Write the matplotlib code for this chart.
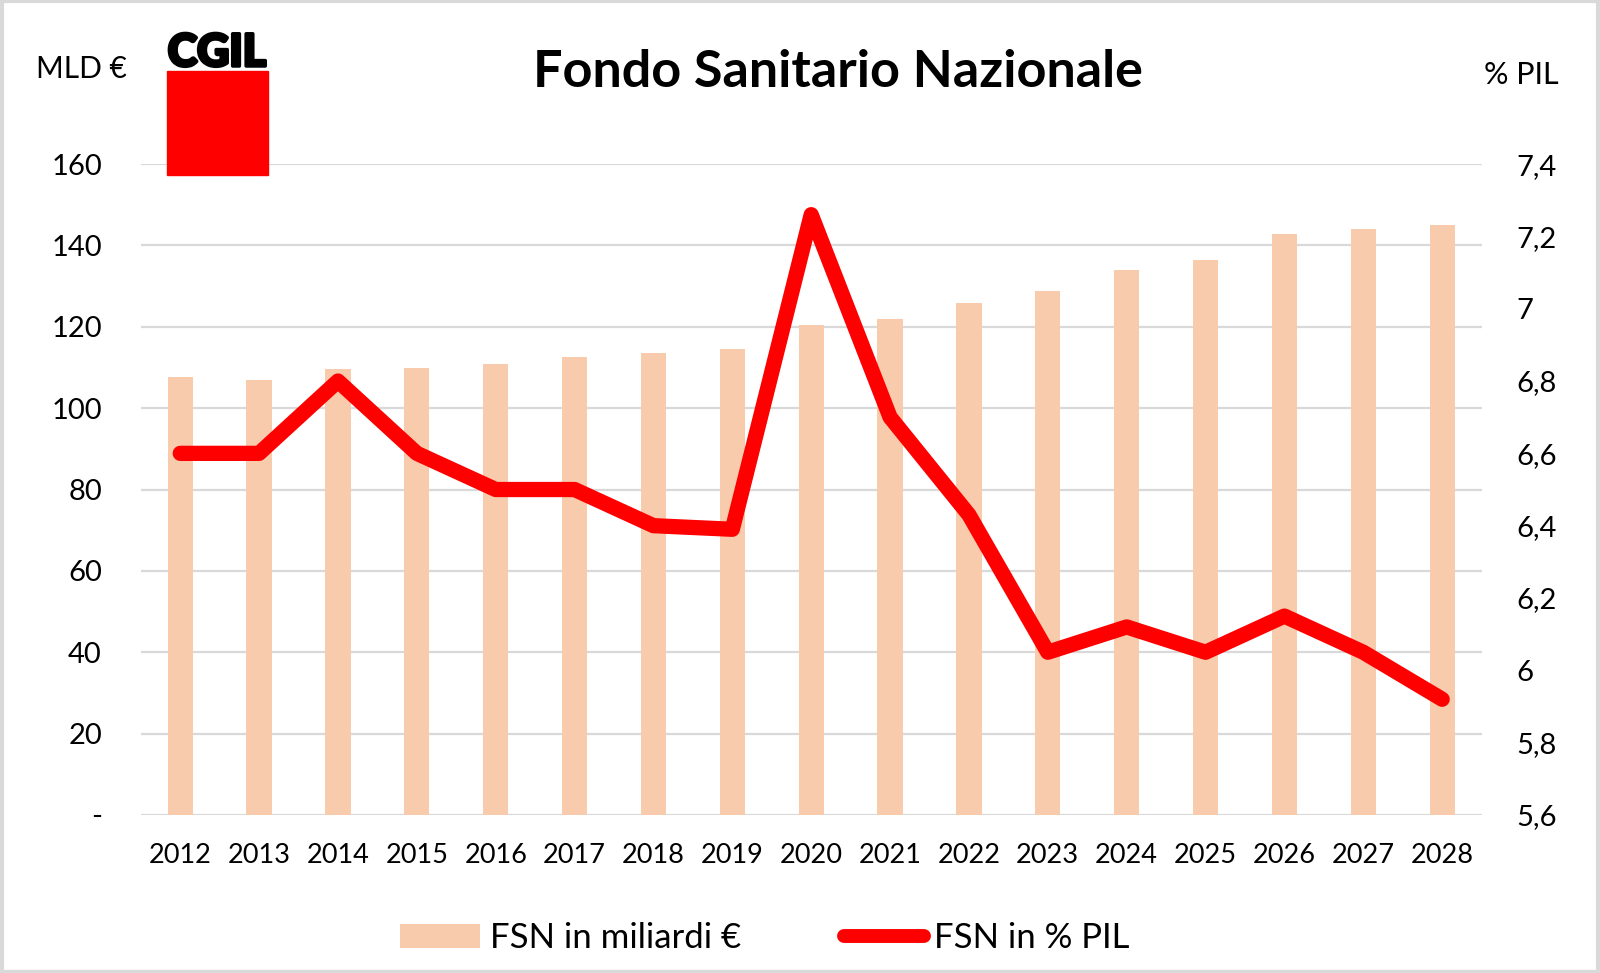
import numpy as np
import matplotlib.pyplot as plt
import matplotlib.patheffects as pe
from matplotlib.patches import Rectangle, Patch
from matplotlib.lines import Line2D

plt.rcParams['font.family'] = ['Lato', 'DejaVu Sans']

anni = ['2012', '2013', '2014', '2015', '2016', '2017', '2018', '2019', '2020',
        '2021', '2022', '2023', '2024', '2025', '2026', '2027', '2028']
fsn_mld = [107.6, 106.8, 109.7, 109.8, 110.8, 112.6, 113.6, 114.5, 120.4,
           121.8, 125.9, 128.8, 134.0, 136.5, 142.8, 144.0, 145.0]
fsn_pil = [6.6, 6.6, 6.8, 6.6, 6.5, 6.5, 6.4, 6.39, 7.26,
           6.7, 6.43, 6.05, 6.12, 6.05, 6.15, 6.05, 5.92]
sx_ticks = [0, 20, 40, 60, 80, 100, 120, 140, 160]
sx_labels = ['-', '20', '40', '60', '80', '100', '120', '140', '160']
dx_ticks = [5.6, 5.8, 6.0, 6.2, 6.4, 6.6, 6.8, 7.0, 7.2, 7.4]
dx_labels = ['5,6', '5,8', '6', '6,2', '6,4', '6,6', '6,8', '7', '7,2', '7,4']

col_bar = '#f8cbad'
col_line = '#ff0000'
col_grid = '#d9d9d9'
fs = 21

fig = plt.figure(figsize=(16, 9.73), dpi=100)
ax = fig.add_axes([0.088, 0.1624, 0.838, 0.669])
x = np.arange(len(anni))

ax.bar(x, fsn_mld, width=0.32, color=col_bar, zorder=2)
ax.set_ylim(0, 160)
ax.set_xlim(-0.5, len(anni) - 0.5)
ax.set_yticks(sx_ticks)
ax.set_yticklabels(sx_labels)
ax.set_xticks(x)
ax.set_xticklabels(anni)
ax.yaxis.grid(True, color=col_grid, lw=1.6, zorder=0)
ax.set_axisbelow(True)
for s in ax.spines.values():
    s.set_visible(False)
ax.tick_params(axis='y', length=0, pad=28, labelsize=fs)
ax.tick_params(axis='x', length=0, pad=20, labelsize=19.5)

ax2 = ax.twinx()
ax2.plot(x, fsn_pil, color=col_line, lw=11, solid_joinstyle='round',
         solid_capstyle='round', zorder=3)
ax2.set_ylim(5.6, 7.4)
ax2.set_yticks(dx_ticks)
ax2.set_yticklabels(dx_labels)
for s in ax2.spines.values():
    s.set_visible(False)
ax2.tick_params(axis='y', length=0, pad=25, labelsize=fs)

# titoli e unita
fig.text(0.524, 0.926, 'Fondo Sanitario Nazionale', ha='center', va='center',
         fontsize=37.5, fontweight='bold')
fig.text(0.0225, 0.929, 'MLD €', ha='left', va='center', fontsize=21.5)
fig.text(0.974, 0.923, '% PIL', ha='right', va='center', fontsize=22)

# logo CGIL
fig.patches.append(Rectangle((167 / 1600, 1 - 175 / 973), 101 / 1600, 104 / 973,
                             transform=fig.transFigure, color='#ff0000', zorder=5))
fig.text(217 / 1600, 1 - 53 / 973, 'CGIL', ha='center', va='center',
         fontsize=32, fontweight='black', color='black',
         path_effects=[pe.withStroke(linewidth=2.5, foreground='black')])

# legenda
h1 = Patch(facecolor=col_bar, edgecolor='none')
h2 = Line2D([], [], color=col_line, lw=10, solid_capstyle='round')
fig.legend([h1, h2], ['FSN in miliardi €', 'FSN in % PIL'], loc='center',
           bbox_to_anchor=(0.478, 0.036), ncol=2, frameon=False, fontsize=25,
           handlelength=2.3, handleheight=0.7, handletextpad=0.3, columnspacing=2.95)

# cornice
fig.patches.append(Rectangle((0.001, 0.001), 0.998, 0.998, transform=fig.transFigure,
                             fill=False, edgecolor='#d9d9d9', lw=3))

fig.savefig('out.png', dpi=100)
